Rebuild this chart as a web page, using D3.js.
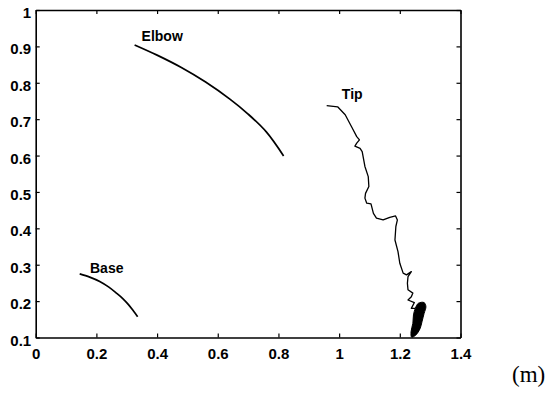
<!DOCTYPE html>
<html><head><meta charset="utf-8">
<script src="https://cdn.jsdelivr.net/npm/d3@7"></script>
<style>
html,body{margin:0;padding:0;background:#fff;}
svg{display:block;}
</style></head>
<body>
<svg id="chart" width="549" height="393"></svg>
<script>
const xTicks = [0, 0.2, 0.4, 0.6, 0.8, 1, 1.2, 1.4];
const yTicks = [0.1, 0.2, 0.3, 0.4, 0.5, 0.6, 0.7, 0.8, 0.9, 1];

const baseX = [0.145, 0.178, 0.211, 0.240, 0.266, 0.287, 0.305, 0.321, 0.336];
const baseY = [0.275, 0.266, 0.254, 0.239, 0.222, 0.207, 0.191, 0.174, 0.157];

const elbowX = [0.326, 0.400, 0.480, 0.560, 0.640, 0.700, 0.760, 0.817];
const elbowY = [0.904, 0.876, 0.842, 0.802, 0.755, 0.714, 0.665, 0.599];

const tipX = [0.959, 0.995, 1.020, 1.041, 1.058, 1.067, 1.058, 1.052, 1.069, 1.076, 1.085, 1.096, 1.098, 1.087, 1.085, 1.091, 1.105, 1.113, 1.123, 1.145, 1.167, 1.186, 1.192, 1.187, 1.184, 1.194, 1.200, 1.211, 1.222, 1.238, 1.227, 1.225, 1.227, 1.243, 1.238, 1.227, 1.248, 1.238, 1.251];
const tipY = [0.737, 0.734, 0.712, 0.679, 0.652, 0.643, 0.634, 0.626, 0.620, 0.611, 0.570, 0.542, 0.515, 0.496, 0.483, 0.469, 0.467, 0.441, 0.428, 0.423, 0.430, 0.434, 0.423, 0.405, 0.368, 0.336, 0.304, 0.277, 0.272, 0.281, 0.267, 0.249, 0.231, 0.222, 0.212, 0.203, 0.196, 0.180, 0.180];

// dense cluster of the tip trajectory at the end of the motion (outline)
const tipClusterX = [1.261, 1.280, 1.286, 1.280, 1.273, 1.267, 1.253, 1.239, 1.237, 1.243, 1.245, 1.251];
const tipClusterY = [0.194, 0.196, 0.185, 0.166, 0.143, 0.125, 0.107, 0.101, 0.116, 0.139, 0.162, 0.180];

const seriesNames = ["Base", "Elbow", "Tip"];
const labelPos = [[0.179, 0.276], [0.349, 0.916], [1.009, 0.755]];
const unitLabel = "(m)";

const svg = d3.select("#chart");
const x = d3.scaleLinear().domain([0, 1.4]).range([35.7, 460.5]);
const y = d3.scaleLinear().domain([0.1, 1]).range([337.5, 10]);

const font = "'Liberation Sans', Arial, Helvetica, sans-serif";

function styleAxis(g) {
  g.select(".domain").attr("stroke", "#000").attr("stroke-width", 1.6);
  g.selectAll(".tick line").attr("stroke", "#000").attr("stroke-width", 1.2);
  g.selectAll(".tick text").attr("fill", "#000").attr("font-family", font)
    .attr("font-size", 15).attr("font-weight", "bold");
}

svg.append("g").attr("transform", `translate(0,${y(0.1)})`)
  .call(d3.axisBottom(x).tickValues(xTicks).tickFormat(d3.format("~g")).tickSizeInner(-4).tickSizeOuter(0).tickPadding(11))
  .call(styleAxis);
svg.append("g").attr("transform", `translate(0,${y(1)})`)
  .call(d3.axisTop(x).tickValues(xTicks).tickFormat("").tickSizeInner(-4).tickSizeOuter(0))
  .call(styleAxis);
svg.append("g").attr("transform", `translate(${x(0)},0)`)
  .call(d3.axisLeft(y).tickValues(yTicks).tickFormat(d3.format("~g")).tickSizeInner(-4).tickSizeOuter(0).tickPadding(4.5))
  .call(styleAxis)
  .call(g => g.selectAll(".tick text").attr("dy", "0.5em"));
svg.append("g").attr("transform", `translate(${x(1.4)},0)`)
  .call(d3.axisRight(y).tickValues(yTicks).tickFormat("").tickSizeInner(-4).tickSizeOuter(0))
  .call(styleAxis);

const smooth = d3.line().x(d => x(d[0])).y(d => y(d[1])).curve(d3.curveCatmullRom);
const plain = d3.line().x(d => x(d[0])).y(d => y(d[1]));

svg.append("path").datum(d3.zip(baseX, baseY)).attr("d", smooth)
  .attr("fill", "none").attr("stroke", "#000").attr("stroke-width", 1.7);
svg.append("path").datum(d3.zip(elbowX, elbowY)).attr("d", smooth)
  .attr("fill", "none").attr("stroke", "#000").attr("stroke-width", 1.7);
svg.append("path").datum(d3.zip(tipX, tipY)).attr("d", plain)
  .attr("fill", "none").attr("stroke", "#000").attr("stroke-width", 1.3).attr("stroke-linejoin", "round");
svg.append("path").datum(d3.zip(tipClusterX, tipClusterY)).attr("d", d3.line().x(d => x(d[0])).y(d => y(d[1])).curve(d3.curveCatmullRomClosed))
  .attr("fill", "#000").attr("stroke", "#000").attr("stroke-width", 1);

svg.append("g").selectAll("text").data(seriesNames).join("text")
  .attr("x", (d, i) => x(labelPos[i][0]))
  .attr("y", (d, i) => y(labelPos[i][1]))
  .attr("font-family", font).attr("font-size", 14).attr("font-weight", "bold")
  .text(d => d);

svg.append("text").attr("x", 512).attr("y", 382)
  .attr("font-family", "'Liberation Serif', 'Times New Roman', serif").attr("font-size", 23)
  .text(unitLabel);
</script>
</body></html>
